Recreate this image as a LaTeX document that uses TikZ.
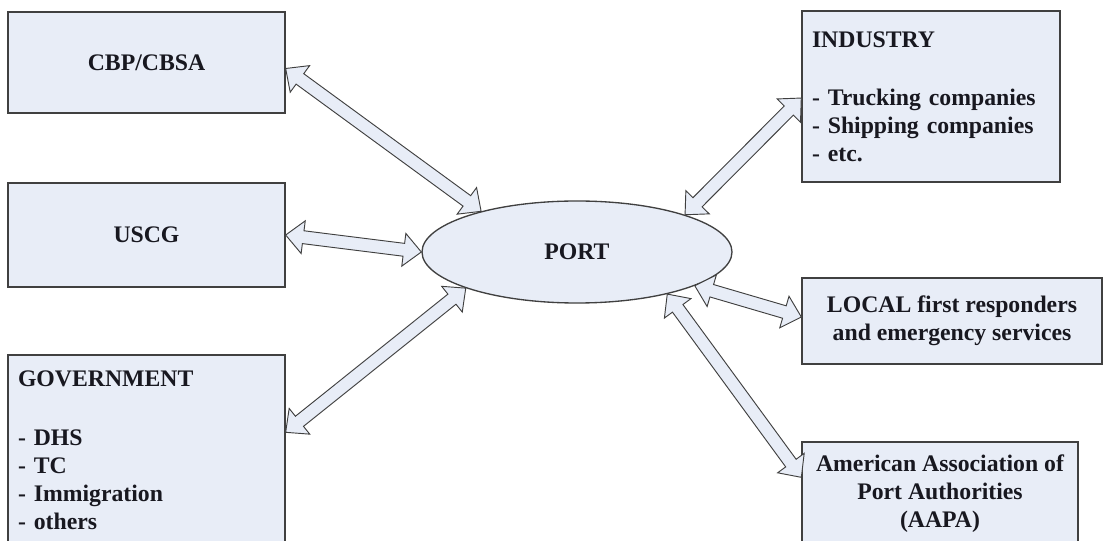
\documentclass[tikz,border=0pt]{standalone}
\usepackage{fontspec}
\setmainfont{Liberation Serif}
\usetikzlibrary{shapes.geometric,shapes.arrows,calc}

\definecolor{boxfill}{RGB}{232,237,247}
\definecolor{boxline}{RGB}{64,64,64}
\definecolor{boxtext}{RGB}{24,24,32}

\tikzset{
  box/.style={draw=boxline, fill=boxfill, line width=1pt, inner sep=0pt,
    text=boxtext, font=\fontsize{17.8}{21}\selectfont\bfseries},
  linkarrow/.style={double arrow, draw=boxline, fill=boxfill, line width=0.7pt,
    inner xsep=0pt, inner ysep=4.5pt, double arrow tip angle=86,
    double arrow head extend=7.5pt, double arrow head indent=0pt}
}

% two-headed block arrow between two named coordinates
% (picture has yscale=-1, so the angle is turned back)
\newcommand{\portlink}[2]{%
  \path let \p1=(#1), \p2=(#2), \n1={atan2(\y2-\y1,\x2-\x1)},
    \n2={veclen(\x2-\x1,\y2-\y1)} in
    node[linkarrow, minimum height=\n2, rotate=-\n1] (#1-#2) at ($(#1)!0.5!(#2)$) {};}

\begin{document}
\begin{tikzpicture}[x=0.75pt,y=0.75pt,yscale=-1,xscale=1]
\fill[white] (0,0) rectangle (1104,541);
\useasboundingbox (0,0) rectangle (1104,541);
\clip (0,0) rectangle (1104,541);

%Boxes, left side
\node[box, minimum width=207.75pt, minimum height=75.75pt, align=center] (cbp) at (146.5,62.5) {CBP/CBSA};
\node[box, minimum width=207.75pt, minimum height=78pt, align=center] (uscg) at (146.5,235) {USCG};
\node[box, minimum width=207.75pt, minimum height=142.5pt, text width=192.75pt, align=left] (gov) at (146.5,450) {GOVERNMENT\\[23pt]- DHS\\- TC\\- Immigration\\- others};

%Boxes, right side
\node[box, minimum width=193.5pt, minimum height=128.25pt, text width=178.5pt, align=left] (ind) at (931,96.5) {INDUSTRY\\[22.5pt]- Trucking companies\\- Shipping companies\\- etc.};
\node[box, minimum width=225pt, minimum height=64.5pt, align=center] (local) at (952,321) {LOCAL first responders\\and emergency services};
\node[box, minimum width=207pt, minimum height=77.25pt, align=center] (aapa) at (940,493.5) {American Association of\\Port Authorities\\(AAPA)};

%Ellipse
\node[box, ellipse, minimum width=232.5pt, minimum height=76.5pt] (port) at (577,252) {PORT};

%Arrow ends
\coordinate (cbpend) at ($(cbp.east)+(0,6)$);
\coordinate (uscgend) at (uscg.east);
\coordinate (govend) at ($(gov.north east)+(0,78)$);
\coordinate (indend) at ($(ind.west)+(0,1.5)$);
\coordinate (localend) at ($(local.west)+(0,-4)$);
\coordinate (aapaend) at ($(aapa.north west)+(0,36)$);
\coordinate (portcbp) at (port.157);
\coordinate (portuscg) at (port.west);
\coordinate (portgov) at (port.198);
\coordinate (portind) at (port.19);
\coordinate (portlocal) at (port.-16);
\coordinate (portaapa) at (port.-25);

%Arrows
\portlink{cbpend}{portcbp}
\portlink{uscgend}{portuscg}
\portlink{govend}{portgov}
\portlink{indend}{portind}
\portlink{localend}{portlocal}
\portlink{aapaend}{portaapa}

\end{tikzpicture}
\end{document}
